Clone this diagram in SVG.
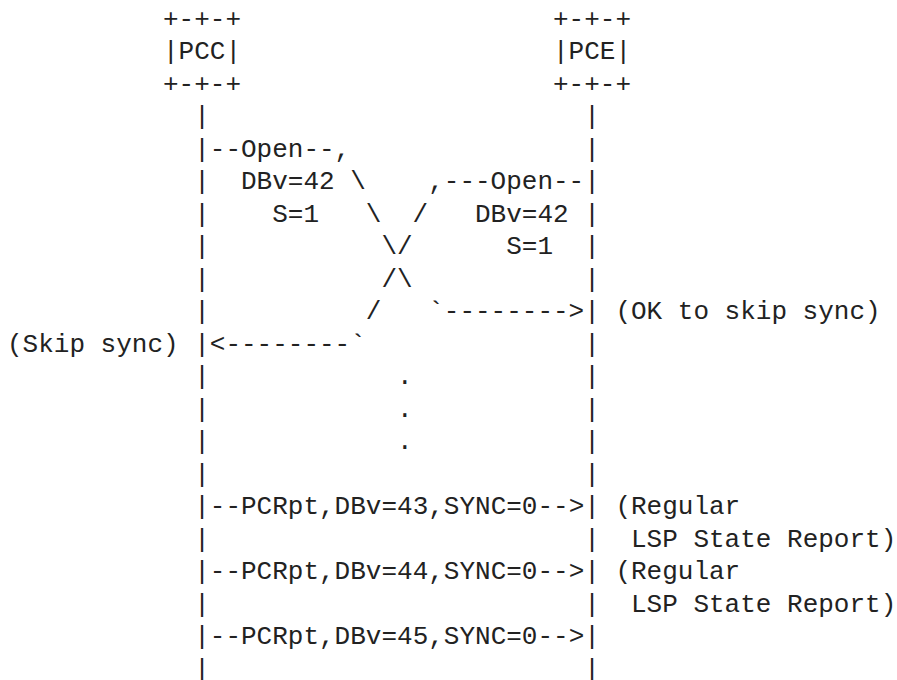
<svg xmlns="http://www.w3.org/2000/svg" width="897" height="680" viewBox="0 0 897 680">
<style>
text { font-family: "Liberation Mono", "DejaVu Sans Mono", monospace; font-size: 26px; fill: #222222; white-space: pre; }
</style>
<rect x="0" y="0" width="897" height="680" fill="#ffffff"/>
<g id="pcc">
<text x="163" y="26.5">+-+-+</text>
<text x="163" y="59">|PCC|</text>
<text x="163" y="91.5">+-+-+</text>
</g>
<g id="pce">
<text x="553" y="26.5">+-+-+</text>
<text x="553" y="59">|PCE|</text>
<text x="553" y="91.5">+-+-+</text>
</g>
<g id="connectors">
<g id="pcc-lifeline">
<text x="194.2" y="124">|</text>
<text x="194.2" y="156.5">|</text>
<text x="194.2" y="189">|</text>
<text x="194.2" y="221.5">|</text>
<text x="194.2" y="254">|</text>
<text x="194.2" y="286.5">|</text>
<text x="194.2" y="319">|</text>
<text x="194.2" y="351.5">|</text>
<text x="194.2" y="384">|</text>
<text x="194.2" y="416.5">|</text>
<text x="194.2" y="449">|</text>
<text x="194.2" y="481.5">|</text>
<text x="194.2" y="514">|</text>
<text x="194.2" y="546.5">|</text>
<text x="194.2" y="579">|</text>
<text x="194.2" y="611.5">|</text>
<text x="194.2" y="644">|</text>
<text x="194.2" y="676.5">|</text>
</g>
<g id="pce-lifeline">
<text x="584.2" y="124">|</text>
<text x="584.2" y="156.5">|</text>
<text x="584.2" y="189">|</text>
<text x="584.2" y="221.5">|</text>
<text x="584.2" y="254">|</text>
<text x="584.2" y="286.5">|</text>
<text x="584.2" y="319">|</text>
<text x="584.2" y="351.5">|</text>
<text x="584.2" y="384">|</text>
<text x="584.2" y="416.5">|</text>
<text x="584.2" y="449">|</text>
<text x="584.2" y="481.5">|</text>
<text x="584.2" y="514">|</text>
<text x="584.2" y="546.5">|</text>
<text x="584.2" y="579">|</text>
<text x="584.2" y="611.5">|</text>
<text x="584.2" y="644">|</text>
<text x="584.2" y="676.5">|</text>
</g>
<g id="open-pcc-to-pce">
<text x="209.8" y="156.5">--Open--,</text>
<text x="350.2" y="189">\</text>
<text x="365.8" y="221.5">\</text>
<text x="381.4" y="254">\</text>
<text x="397" y="286.5">\</text>
<text x="428.2" y="319">`--------&gt;</text>
</g>
<g id="open-pce-to-pcc">
<text x="428.2" y="189">,---Open--</text>
<text x="412.6" y="221.5">/</text>
<text x="397" y="254">/</text>
<text x="381.4" y="286.5">/</text>
<text x="365.8" y="319">/</text>
<text x="209.8" y="351.5">&lt;--------`</text>
</g>
<g id="ellipsis">
<text x="397" y="384">.</text>
<text x="397" y="416.5">.</text>
<text x="397" y="449">.</text>
</g>
<g id="pcrpt">
<text x="209.8" y="514">--PCRpt,DBv=43,SYNC=0--&gt;</text>
<text x="209.8" y="579">--PCRpt,DBv=44,SYNC=0--&gt;</text>
<text x="209.8" y="644">--PCRpt,DBv=45,SYNC=0--&gt;</text>
</g>
</g>
<g id="labels">
<text x="241" y="189">DBv=42</text>
<text x="272.2" y="221.5">S=1</text>
<text x="475" y="221.5">DBv=42</text>
<text x="506.2" y="254">S=1</text>
<text x="615.4" y="319">(OK to skip sync)</text>
<text x="7" y="351.5">(Skip sync)</text>
<text x="615.4" y="514">(Regular</text>
<text x="631" y="546.5">LSP State Report)</text>
<text x="615.4" y="579">(Regular</text>
<text x="631" y="611.5">LSP State Report)</text>
</g>
</svg>
